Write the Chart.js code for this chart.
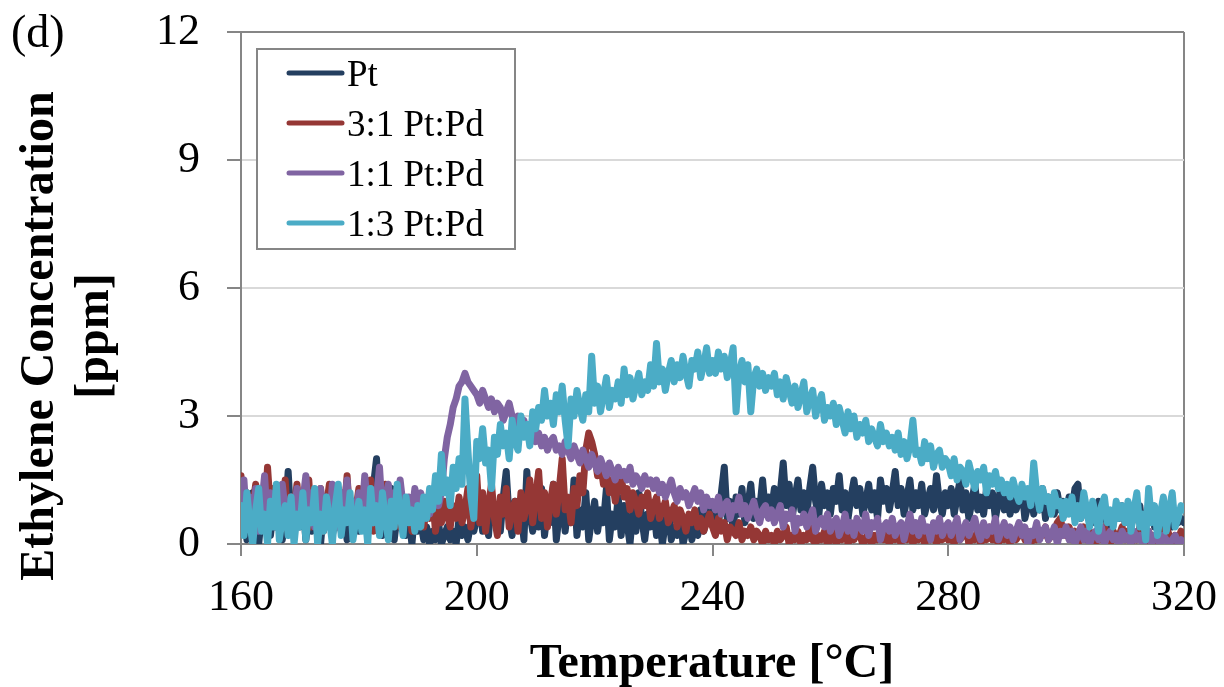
<!DOCTYPE html>
<html>
<head>
<meta charset="utf-8">
<script src="https://cdn.jsdelivr.net/npm/chart.js@4.4.1/dist/chart.umd.min.js"></script>
<style>
  html, body { margin: 0; padding: 0; background: #fff; }
  #wrap { width: 1224px; height: 687px; }
</style>
</head>
<body>
<div id="wrap"><canvas id="grafico" width="1224" height="687"></canvas></div>
<script>
// ---- dados: uma leitura a cada 0,5 °C, de 160 a 320 °C ----
const T_INICIO = 160;
const T_PASSO  = 0.5;

const SERIES = ['Pt', '3:1 Pt:Pd', '1:1 Pt:Pd', '1:3 Pt:Pd'];
const CORES  = ['#243f60', '#953735', '#8064a2', '#4bacc6'];

const ptVals = [
  0.3,0.9,0.1,0.6,1.2,0.4,0.0,0.7,0.5,1.1,0.2,0.8,0.4,1.3,0.1,0.6,1.7,0.5,0.2,0.9,
  0.4,1.0,0.1,0.7,0.3,1.2,0.5,0.0,0.8,0.4,1.1,0.2,0.6,1.3,0.3,0.7,0.1,0.9,0.5,1.0,
  0.3,0.8,1.2,0.4,0.9,1.4,2.0,0.6,0.2,1.0,0.5,1.3,0.1,0.7,0.4,1.0,0.2,0.6,0.0,0.8,
  0.3,0.5,0.1,0.4,0.0,0.3,0.1,0.5,0.0,0.2,0.4,0.1,0.3,0.0,0.6,0.2,0.4,0.1,0.5,0.3,
  0.6,1.0,0.3,0.8,0.2,1.2,0.5,0.9,0.3,1.1,1.7,0.6,0.2,1.0,0.4,0.8,0.1,1.7,0.7,0.3,
  0.9,0.4,1.3,0.2,0.8,0.5,1.4,0.1,0.7,1.1,0.3,0.9,0.5,1.5,0.2,0.8,0.4,1.2,0.1,0.6,
  1.0,0.3,0.8,0.5,1.3,0.1,0.7,0.4,1.1,0.2,0.9,0.5,0.0,0.8,0.3,1.2,0.6,0.1,0.7,0.4,
  0.9,0.2,0.6,0.0,0.5,0.8,0.1,0.4,0.2,0.7,0.0,0.3,0.6,0.1,0.5,0.2,0.8,0.3,0.6,1.0,
  0.5,0.9,0.4,1.2,1.8,0.6,1.0,0.3,1.1,0.7,1.3,0.5,0.9,1.4,0.6,1.0,0.8,1.5,0.7,1.1,
  0.8,1.3,0.7,1.2,1.9,0.9,1.4,0.6,1.1,1.5,0.8,1.2,0.7,1.3,1.8,1.0,0.6,1.4,0.9,1.2,
  0.7,1.3,1.0,1.6,0.8,1.2,0.6,1.1,1.5,0.9,1.3,0.7,1.0,1.4,0.8,1.2,0.6,1.5,1.0,1.3,
  0.8,1.2,1.7,0.9,1.3,0.7,1.1,1.5,0.8,1.2,0.9,1.4,0.7,1.0,1.3,0.8,1.6,1.0,0.7,1.2,
  0.9,1.3,0.7,1.1,1.5,0.8,1.2,0.6,1.0,1.4,0.8,1.1,0.7,1.3,0.9,1.2,0.6,1.0,1.4,0.8,
  1.1,0.7,1.2,0.8,1.0,1.3,0.6,0.9,1.2,0.7,1.0,0.8,1.3,0.6,1.1,0.9,0.7,1.2,0.8,1.0,
  0.7,1.1,0.8,1.3,1.4,0.6,1.0,0.7,0.9,0.5,0.8,1.0,0.6,0.9,0.4,0.7,0.5,0.8,0.6,0.9,
  0.5,0.8,0.4,0.7,0.6,0.9,0.3,0.6,0.5,0.8,0.4,0.7,0.3,0.6,0.5,0.8,0.4,0.7,0.5,0.6,
  0.5
];

const pt31Vals = [
  1.6,0.6,1.2,0.4,0.9,1.4,0.7,1.1,0.5,1.8,0.8,1.3,0.4,1.0,0.6,1.5,0.3,1.1,0.8,1.4,
  0.5,1.2,0.7,1.5,0.4,1.0,0.8,1.3,0.3,0.9,1.4,0.6,1.1,0.4,1.2,0.7,1.6,0.5,1.0,0.8,
  1.3,0.4,1.1,0.7,1.5,0.3,0.9,1.2,0.6,1.4,0.5,1.0,0.8,1.3,0.4,1.1,0.6,0.9,0.3,1.2,
  0.7,1.0,0.4,0.9,0.6,1.1,0.3,0.8,0.5,1.0,0.7,0.4,0.9,0.6,1.1,0.5,0.8,1.3,0.4,0.9,
  1.6,0.5,1.2,0.3,0.9,1.4,0.6,0.2,1.1,0.7,1.3,0.4,0.8,1.0,0.3,1.2,0.6,0.9,1.5,0.5,
  1.1,1.7,0.6,1.2,0.4,1.0,1.4,0.7,1.3,2.0,0.8,1.1,0.5,1.3,0.9,1.6,1.2,2.2,2.6,2.4,
  2.1,1.6,1.9,1.4,1.7,1.2,1.5,1.0,1.4,1.6,1.1,1.3,0.8,1.2,1.0,0.7,1.1,0.9,1.2,0.6,
  0.9,1.1,0.6,0.8,1.0,0.5,0.7,0.9,0.4,0.8,0.6,0.3,0.7,0.5,0.8,0.4,0.6,0.3,0.5,0.7,
  0.4,0.2,0.6,0.3,0.5,0.1,0.4,0.3,0.2,0.5,0.1,0.3,0.2,0.4,0.1,0.3,0.2,0.0,0.3,0.1,
  0.2,0.0,0.3,0.1,0.2,0.4,0.0,0.2,0.1,0.3,0.0,0.2,0.1,0.4,0.1,0.0,0.2,0.1,0.3,0.0,
  0.1,0.3,0.0,0.2,0.1,0.4,0.0,0.2,0.1,0.3,0.2,0.0,0.1,0.3,0.0,0.2,0.1,0.4,0.1,0.2,
  0.0,0.3,0.1,0.2,0.0,0.4,0.1,0.3,0.0,0.2,0.1,0.5,0.0,0.2,0.1,0.3,0.0,0.2,0.1,0.4,
  0.1,0.2,0.0,0.3,0.1,0.2,0.4,0.0,0.2,0.1,0.3,0.0,0.2,0.1,0.4,0.1,0.2,0.0,0.3,0.1,
  0.2,0.0,0.3,0.1,0.2,0.4,0.1,0.3,0.0,0.2,0.1,0.3,0.2,0.4,0.1,0.2,0.3,0.5,0.6,0.3,
  0.2,0.4,0.1,0.3,0.0,0.2,0.4,0.1,0.3,0.2,0.0,0.3,0.1,0.4,0.2,0.0,0.3,0.1,0.2,0.4,
  0.1,0.3,0.0,0.2,0.1,0.4,0.2,0.0,0.3,0.1,0.2,0.0,0.3,0.1,0.4,0.2,0.0,0.2,0.1,0.3,
  0.2
];

const pt11Vals = [
  0.8,1.5,0.4,1.1,0.6,1.3,0.3,0.9,1.6,0.5,1.2,0.7,1.0,0.4,1.4,0.8,0.5,1.1,0.7,1.3,
  0.5,1.0,1.6,0.6,1.2,0.4,0.9,1.3,0.7,1.1,0.5,1.4,0.8,0.4,1.2,0.9,1.5,0.6,1.0,0.7,
  1.2,0.6,1.6,0.9,1.3,0.5,1.1,1.8,0.7,1.0,1.4,0.6,1.2,0.8,1.5,0.9,0.6,1.1,0.7,1.3,
  0.9,1.2,0.8,1.1,0.7,1.0,1.3,0.9,1.2,2.0,2.5,2.8,3.2,3.4,3.7,3.8,4.0,3.8,3.7,3.6,
  3.5,3.3,3.6,3.4,3.2,3.4,3.1,3.3,3.2,2.9,3.1,3.3,3.0,2.8,3.0,2.7,2.9,2.6,2.5,2.7,
  2.4,2.6,2.3,2.5,2.2,2.4,2.5,2.2,2.3,2.1,2.4,2.2,2.0,2.3,2.1,1.9,2.2,2.0,1.8,2.1,
  1.9,1.7,2.0,1.8,1.6,1.9,1.7,1.5,1.8,1.6,1.7,1.5,1.8,1.4,1.6,1.5,1.3,1.6,1.4,1.5,
  1.3,1.5,1.2,1.4,1.1,1.3,1.5,1.2,1.0,1.3,1.1,1.2,0.9,1.1,1.3,1.0,1.2,0.8,1.1,0.9,
  1.0,0.8,1.1,0.7,0.9,1.0,0.6,0.9,0.8,1.1,0.7,0.9,0.6,0.8,1.0,0.7,0.5,0.8,0.9,0.6,
  0.8,0.5,0.7,0.9,0.4,0.7,0.6,0.8,0.3,0.6,0.5,0.7,0.4,0.6,0.8,0.3,0.5,0.6,0.4,0.7,
  0.3,0.5,0.6,0.2,0.4,0.7,0.3,0.5,0.2,0.6,0.4,0.3,0.7,0.2,0.5,0.4,0.6,0.1,0.4,0.5,
  0.3,0.6,0.2,0.4,0.5,0.1,0.4,0.7,0.3,0.5,0.2,0.6,0.3,0.4,0.1,0.5,0.3,0.6,0.2,0.4,
  0.5,0.2,0.4,0.6,0.1,0.3,0.5,0.2,0.4,0.6,0.3,0.1,0.5,0.2,0.4,0.3,0.6,0.1,0.3,0.5,
  0.2,0.4,0.1,0.3,0.5,0.2,0.4,0.0,0.3,0.2,0.5,0.1,0.3,0.4,0.1,0.2,0.4,0.0,0.3,0.2,
  0.4,0.1,0.3,0.0,0.2,0.4,0.1,0.3,0.0,0.2,0.3,0.1,0.4,0.0,0.2,0.3,0.1,0.2,0.0,0.3,
  0.1,0.2,0.0,0.3,0.1,0.2,0.0,0.1,0.3,0.0,0.2,0.1,0.0,0.2,0.1,0.0,0.1,0.2,0.0,0.1,
  0.0
];

const pt13Vals = [
  0.9,0.2,1.2,0.5,0.0,0.8,1.3,0.3,0.7,0.0,1.0,0.4,1.4,0.1,0.6,0.9,0.2,1.1,0.0,0.7,
  0.4,1.2,0.1,0.8,0.5,1.3,0.0,0.7,0.3,1.1,0.6,0.0,0.9,1.4,0.2,0.8,0.5,1.2,0.1,0.6,
  1.0,0.3,0.8,0.0,1.3,0.5,0.9,0.2,1.2,0.6,0.1,1.0,0.4,1.4,0.7,0.2,1.1,0.5,0.8,0.3,
  0.9,0.4,1.1,0.6,1.3,0.8,1.6,1.0,2.1,1.2,1.5,0.9,1.8,1.3,2.0,1.4,3.4,2.2,1.1,0.6,
  2.4,2.0,2.7,1.9,2.2,1.3,2.5,2.1,2.8,2.3,2.6,2.0,2.9,2.4,2.2,3.0,2.5,2.8,2.3,3.1,
  2.7,3.2,2.9,3.6,3.0,3.3,2.8,3.5,3.1,3.7,2.9,2.3,3.4,3.0,3.6,3.2,2.9,3.5,3.1,4.4,
  3.3,3.7,3.1,3.5,3.9,3.2,3.6,3.4,3.8,3.3,4.1,3.5,3.9,3.4,3.7,4.0,3.5,3.8,3.6,4.2,
  3.7,4.7,3.8,4.1,3.6,4.0,4.3,3.8,4.2,3.9,4.4,4.0,3.7,4.3,4.1,4.5,3.9,4.2,4.6,4.0,
  4.3,4.0,4.5,4.1,4.4,3.9,4.2,4.6,3.1,4.0,4.3,3.8,4.2,3.1,3.9,4.1,3.7,4.0,3.6,3.9,
  3.7,4.0,3.5,3.8,3.4,3.9,3.6,3.3,3.7,3.2,3.5,3.8,3.1,3.4,3.6,3.0,3.3,3.5,2.9,3.2,
  3.0,3.3,2.8,3.2,2.9,2.6,3.1,2.7,3.0,2.5,2.8,2.6,2.9,2.4,2.7,2.5,2.3,2.8,2.4,2.6,
  2.3,2.5,2.2,2.6,2.1,2.4,2.0,2.3,2.9,2.1,2.2,1.9,2.4,2.0,2.3,1.8,2.1,2.2,1.8,2.0,
  1.9,1.6,2.0,1.5,1.8,1.7,1.4,1.9,1.6,1.3,1.7,1.5,1.8,1.2,1.6,1.4,1.7,1.3,1.5,1.2,
  1.4,1.1,1.5,1.2,1.0,1.4,1.1,1.3,0.9,1.9,1.2,0.8,1.3,1.0,1.1,0.7,1.2,0.9,1.0,0.6,
  1.0,0.7,1.1,0.5,0.9,0.6,1.2,0.8,0.4,1.0,0.7,0.3,0.9,1.1,0.5,0.8,0.4,1.0,0.6,0.9,
  0.5,1.0,0.3,0.8,1.2,0.4,0.7,0.1,1.3,0.5,0.9,0.2,0.7,1.1,0.3,0.8,1.2,0.4,0.6,0.9,
  0.8
];

const temps = ptVals.map((_, i) => T_INICIO + i * T_PASSO);

const Y_TICKS = [0, 3, 6, 9, 12];
const X_TICKS = [160, 200, 240, 280, 320];

const CINZA_EIXO = '#868686';
const CINZA_GRADE = '#d9d9d9';
const SERIF = '"Liberation Serif", "Times New Roman", serif';

// ---- títulos, rótulo (d) e legenda com moldura ----
const extras = {
  id: 'extras',
  afterDraw(chart) {
    const ctx = chart.ctx;
    ctx.save();
    ctx.fillStyle = '#000';

    ctx.font = '46px ' + SERIF;
    ctx.textAlign = 'left';
    ctx.textBaseline = 'alphabetic';
    ctx.fillText('(d)', 11, 47);

    ctx.font = 'bold 48px ' + SERIF;
    ctx.textAlign = 'center';
    ctx.fillText('Temperature [°C]', 712, 677);

    ctx.save();
    ctx.translate(53, 336);
    ctx.rotate(-Math.PI / 2);
    ctx.fillText('Ethylene Concentration', 0, 0);
    ctx.restore();
    ctx.save();
    ctx.translate(108, 336);
    ctx.rotate(-Math.PI / 2);
    ctx.fillText('[ppm]', 0, 0);
    ctx.restore();

    // legenda
    ctx.fillStyle = '#fff';
    ctx.fillRect(257, 49, 258, 200);
    ctx.strokeStyle = CINZA_EIXO;
    ctx.lineWidth = 2;
    ctx.strokeRect(257, 49, 258, 200);
    ctx.font = '37px ' + SERIF;
    ctx.textAlign = 'left';
    chart.data.datasets.forEach((ds, i) => {
      const y = 73 + i * 50;
      ctx.strokeStyle = ds.borderColor;
      ctx.lineWidth = 5;
      ctx.lineCap = 'round';
      ctx.beginPath();
      ctx.moveTo(289, y);
      ctx.lineTo(342, y);
      ctx.stroke();
      ctx.fillStyle = '#000';
      ctx.fillText(ds.label, 347, y + 13);
    });
    ctx.restore();
  }
};

const valores = [ptVals, pt31Vals, pt11Vals, pt13Vals];

new Chart(document.getElementById('grafico').getContext('2d'), {
  type: 'line',
  data: {
    labels: temps,
    datasets: SERIES.map((nome, i) => ({
      label: nome,
      data: valores[i],
      borderColor: CORES[i],
      backgroundColor: CORES[i],
      borderWidth: 7,
      pointRadius: 0,
      tension: 0,
      borderJoinStyle: 'round',
      borderCapStyle: 'round',
      order: SERIES.length - i   // Pt por baixo, 1:3 por cima
    }))
  },
  options: {
    responsive: false,
    animation: false,
    events: [],
    layout: { padding: { top: 32, right: 40, left: 0, bottom: 0 } },
    plugins: { legend: { display: false }, tooltip: { enabled: false } },
    scales: {
      x: {
        type: 'linear',
        min: 160, max: 320,
        // altura fixa e sem folga extra para o rótulo 320
        afterFit: s => { s.height = 143; s.paddingLeft = 0; s.paddingRight = 0; },
        afterBuildTicks: s => { s.ticks = X_TICKS.map(v => ({ value: v })); },
        border: { color: CINZA_EIXO, width: 2 },
        grid: {
          color: c => (c.tick && c.tick.value === 320) ? CINZA_EIXO : 'rgba(0,0,0,0)',
          lineWidth: 2,
          tickColor: CINZA_EIXO,
          tickLength: 12
        },
        ticks: { color: '#000', padding: 16, maxRotation: 0, font: { family: SERIF, size: 44 } }
      },
      y: {
        min: 0, max: 12,
        afterFit: s => { s.width = 241; s.paddingTop = 0; s.paddingBottom = 0; },
        afterBuildTicks: s => { s.ticks = Y_TICKS.map(v => ({ value: v })); },
        border: { color: CINZA_EIXO, width: 2 },
        grid: {
          color: c => (c.tick && c.tick.value === 12) ? CINZA_EIXO : CINZA_GRADE,
          lineWidth: 2,
          tickColor: CINZA_EIXO,
          tickLength: 14
        },
        ticks: { color: '#000', padding: 27, font: { family: SERIF, size: 44 } }
      }
    }
  },
  plugins: [extras]
});
</script>
</body>
</html>
